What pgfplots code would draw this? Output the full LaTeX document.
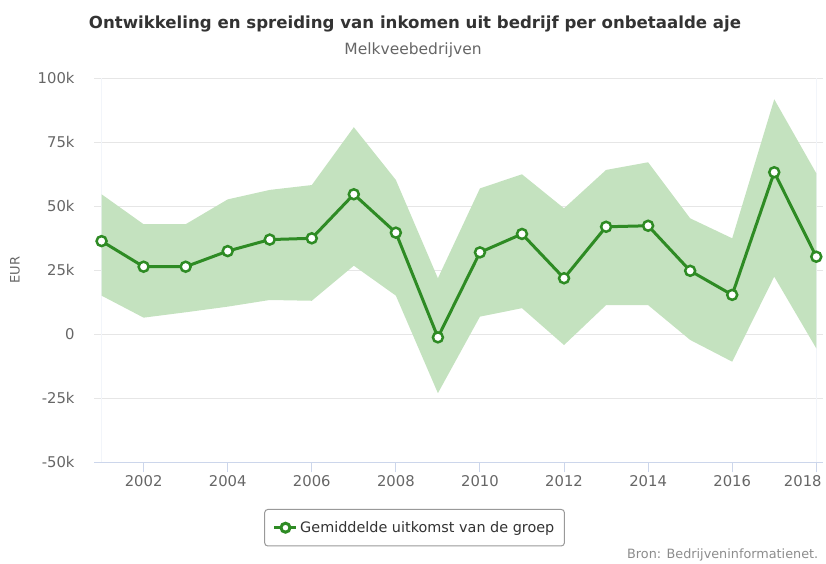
\documentclass[border=0pt]{standalone}
\usepackage{fontspec}
\setmainfont{DejaVu Sans}
\usepackage{pgfplots}
\usepackage{pgfplotstable}
\pgfplotsset{compat=1.18}
\usepgfplotslibrary{fillbetween}

\definecolor{mkline}{RGB}{46,139,36}
\definecolor{mkband}{RGB}{196,226,191}
\definecolor{gridgray}{RGB}{230,230,230}
\definecolor{axisblue}{RGB}{204,214,235}
\definecolor{labgray}{RGB}{102,102,102}
\definecolor{titlegray}{RGB}{51,51,51}

% inkomen per onbetaalde aje, x 1000 EUR
\pgfplotstableread{
year  mean   lo     hi
2001  36.4   15.1   54.7
2002  26.4    6.5   43.0
2003  26.4    8.6   43.0
2004  32.5   10.8   52.7
2005  37.0   13.4   56.4
2006  37.5   13.1   58.3
2007  54.7   26.8   80.9
2008  39.7   15.1   60.3
2009  -1.2  -23.0   21.9
2010  32.0    6.9   57.0
2011  39.2   10.2   62.5
2012  21.9   -4.2   49.2
2013  42.0   11.4   64.2
2014  42.4   11.4   67.2
2015  24.8   -2.2   45.3
2016  15.4  -10.7   37.5
2017  63.3   22.5   91.8
2018  30.3   -5.5   62.9
}\melkvee

\begin{document}
\begin{tikzpicture}
\begin{axis}[
  at={(94pt,100.7pt)}, anchor=south west,
  scale only axis, width=729pt, height=384pt,
  xmin=2000.82, xmax=2018.16,
  ymin=-50, ymax=100,
  clip=false,
  axis x line*=bottom, axis y line*=left,
  x axis line style={draw=axisblue, line width=1pt},
  y axis line style={draw=none},
  xtick={2002,2004,...,2018},
  xticklabels={2002,2004,2006,2008,2010,2012,2014,2016,{2018\hspace*{27pt}}},
  ytick={-50,-25,0,25,50,75,100},
  yticklabels={-50k,-25k,0,25k,50k,75k,100k},
  tick align=outside,
  major tick length=10pt,
  xtick style={draw=axisblue, line width=1pt},
  ytick style={draw=none},
  ymajorgrids, grid style={draw=gridgray, line width=1pt},
  extra x ticks={2001,2018},
  extra x tick labels={},
  extra x tick style={major tick length=0pt, xmajorgrids=true, ymajorgrids=false,
    grid style={draw=axisblue!25, line width=0.8pt}},
  /pgf/number format/assume math mode=true,
  /pgf/number format/1000 sep={},
  tick label style={font=\fontsize{14.8}{17}\selectfont, text=labgray},
  yticklabel style={xshift=-6pt},
  ylabel={EUR},
  ylabel style={at={(axis description cs:-0.1083,0.5)}, anchor=center,
    font=\fontsize{13}{15}\selectfont, text=labgray},
  legend style={at={(axis description cs:0.4397,-0.1216)}, anchor=north,
    draw=black!40, line width=1pt, rounded corners=3pt,
    inner xsep=8pt, inner ysep=10pt,
    font=\fontsize{14.4}{17}\selectfont, text=titlegray},
  legend cell align=left,
]
\addplot[draw=none, name path=hi, forget plot] table[x=year, y=hi] {\melkvee};
\addplot[draw=none, name path=lo, forget plot] table[x=year, y=lo] {\melkvee};
\addplot[fill=mkband, draw=none, forget plot] fill between[of=hi and lo];
\addplot[mkline, line width=3pt, mark=*, mark size=5pt,
  mark options={fill=white, draw=mkline, line width=2.5pt},
  legend image code/.code={
    \draw[mkline, line width=3.5pt] (0pt,0pt) -- (22pt,0pt);
    \draw[mkline, fill=white, line width=3pt] (11pt,0pt) circle (4.5pt);
  }] table[x=year, y=mean] {\melkvee};
\addlegendentry{Gemiddelde uitkomst van de groep}

\node[font=\fontsize{16.6}{19}\selectfont\bfseries, text=titlegray]
  at (axis description cs:0.4403,1.1416) {Ontwikkeling en spreiding van inkomen uit bedrijf per onbetaalde aje};
\node[font=\fontsize{15.5}{18}\selectfont, text=labgray]
  at (axis description cs:0.4376,1.0737) {Melkveebedrijven};
\node[font=\fontsize{12.8}{15}\selectfont, text=black!45, anchor=east, inner sep=0pt]
  at (axis description cs:0.9937,-0.2412) {Bron: Bedrijveninformatienet.};
\end{axis}
\pgfresetboundingbox
\useasboundingbox (0,0) rectangle (826pt,563pt);
\end{tikzpicture}
\end{document}
